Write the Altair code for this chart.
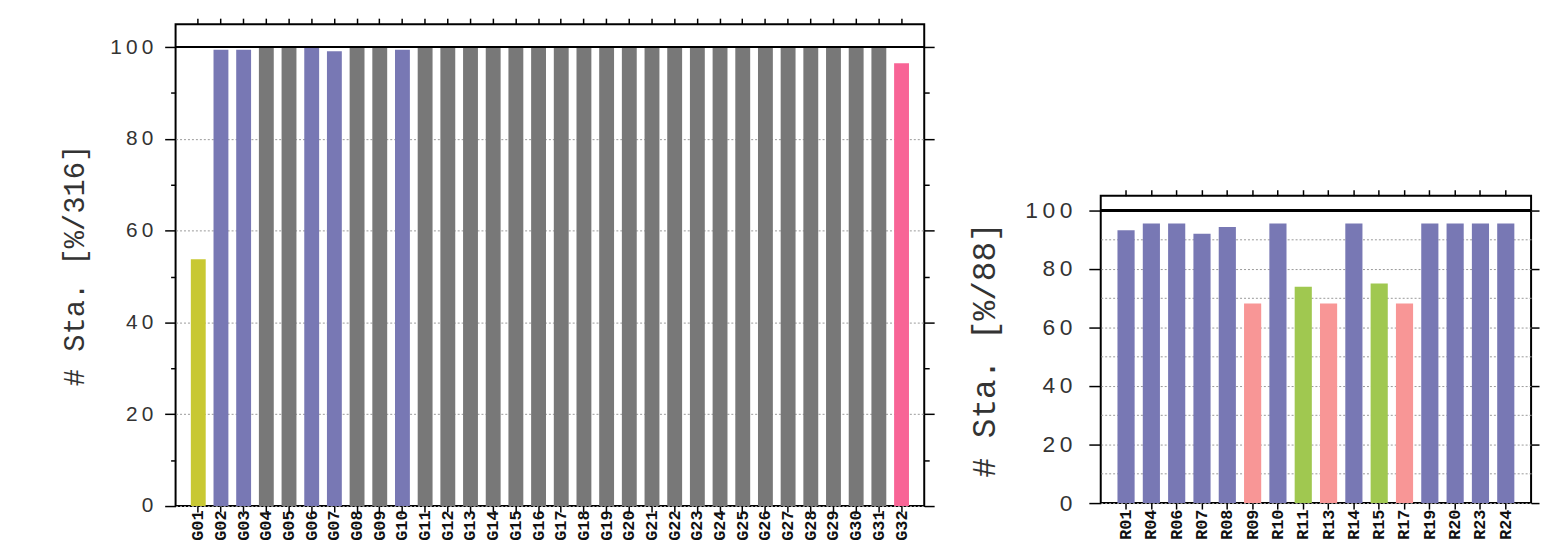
import altair as alt
import pandas as pd

# ---------------- data ----------------
left_stations = ["G01", "G02", "G03", "G04", "G05", "G06", "G07", "G08", "G09", "G10",
                 "G11", "G12", "G13", "G14", "G15", "G16", "G17", "G18", "G19", "G20",
                 "G21", "G22", "G23", "G24", "G25", "G26", "G27", "G28", "G29", "G30",
                 "G31", "G32"]
left_values = [53.8, 99.4, 99.4, 100, 100, 100, 99.1, 100, 100, 99.4,
               100, 100, 100, 100, 100, 100, 100, 100, 100, 100,
               100, 100, 100, 100, 100, 100, 100, 100, 100, 100,
               100, 96.5]
left_groups = ["A", "B", "B", "C", "C", "B", "B", "C", "C", "B",
               "C", "C", "C", "C", "C", "C", "C", "C", "C", "C",
               "C", "C", "C", "C", "C", "C", "C", "C", "C", "C",
               "C", "D"]

right_stations = ["R01", "R04", "R06", "R07", "R08", "R09", "R10", "R11",
                  "R13", "R14", "R15", "R17", "R19", "R20", "R23", "R24"]
right_values = [93.2, 95.5, 95.5, 92.0, 94.3, 68.2, 95.5, 73.9,
                68.2, 95.5, 75.0, 68.2, 95.5, 95.5, 95.5, 95.5]
right_groups = ["B", "B", "B", "B", "B", "E", "B", "F",
                "E", "B", "F", "E", "B", "B", "B", "B"]

group_names = ["A", "B", "C", "D", "E", "F"]
group_colors = ["#C8C832", "#7878B4", "#787878", "#F86496", "#F89696", "#A0C850"]

left_title = "# Sta. [%/316]"
right_title = "# Sta. [%/88]"

left_df = pd.DataFrame({"station": left_stations, "pct": left_values, "grp": left_groups})
right_df = pd.DataFrame({"station": right_stations, "pct": right_values, "grp": right_groups})

MONO = "Liberation Mono"
SANS = "Liberation Sans"
spaced = "join(split(datum.label, ''), '\u2009')"


def panel(df, title, width, height, bar_w, minor, lab_size, title_size,
          xlab_size, ytick, ylabpad, ytitlepad, xlabpad, rtick):
    n = len(df)
    step = width / (n + 1)
    p_in = 1 - bar_w / step
    p_out = (1 + p_in) / 2
    xscale = alt.Scale(paddingInner=p_in, paddingOuter=p_out)
    yscale = alt.Scale(domain=[0, 105], nice=False, zero=True)
    colors = alt.Scale(domain=group_names, range=group_colors)

    grid_vals = list(range(0, 101, 10))
    major = "datum.value % 20 === 0"
    if minor:
        tsize = {"condition": {"test": major, "value": ytick}, "value": 5}
        rsize = {"condition": {"test": major, "value": rtick}, "value": 5}
        gop = {"condition": {"test": major, "value": 1}, "value": 0}
    else:
        tsize = {"condition": {"test": major, "value": ytick}, "value": 0}
        rsize = {"condition": {"test": major, "value": rtick}, "value": 0}
        gop = 1
    lexpr = major + " ? " + spaced + " : ''"

    bars = alt.Chart(df).mark_bar(size=bar_w).encode(
        x=alt.X("station:N", sort=None, scale=xscale, title=None,
                axis=alt.Axis(orient="bottom", labelAngle=270, labelFont=MONO,
                              labelFontWeight="bold", labelFontSize=xlab_size,
                              labelColor="#111", labelPadding=xlabpad,
                              tickSize=6, tickWidth=1.5, tickColor="black",
                              domain=False, grid=False)),
        y=alt.Y("pct:Q", scale=yscale, title=title,
                axis=alt.Axis(orient="left", values=grid_vals,
                              tickSize=tsize, tickWidth=1.5, tickColor="black",
                              labelExpr=lexpr,
                              labelFont=SANS, labelFontSize=lab_size, labelColor="#333",
                              labelPadding=ylabpad,
                              titleFont=MONO, titleFontSize=title_size, titleColor="#333",
                              titleFontWeight="normal", titlePadding=ytitlepad,
                              domain=False, grid=True, gridOpacity=gop,
                              gridDash=[2, 2], gridColor="#999", gridWidth=1)),
        color=alt.Color("grp:N", scale=colors, legend=None),
    )

    rule = alt.Chart(df).mark_rule(color="black", strokeWidth=2).encode(
        y=alt.YDatum(100, type="quantitative", scale=yscale,
                     axis=alt.Axis(orient="right", values=grid_vals, labels=False,
                                   tickSize=rsize, tickWidth=1.5, tickColor="black",
                                   domain=False, grid=False, title=None)),
    )

    top = alt.Chart(df).mark_point(opacity=0).encode(
        x=alt.X("station:N", sort=None, scale=xscale, title=None,
                axis=alt.Axis(orient="top", labels=False, tickSize=6, tickWidth=1.5,
                              tickColor="black", domain=False, grid=False)),
        y=alt.Y("pct:Q", scale=yscale, axis=None),
    )

    return alt.layer(bars, rule, top).resolve_axis(x="independent", y="independent").properties(
        width=width, height=height,
        view=alt.ViewBackground(stroke="black", strokeWidth=2),
    )


left = panel(left_df, left_title, 755, 486, 15, True, 21, 29, 17, 11, 12, 20, -2, 10)
right = panel(right_df, right_title, 434, 310, 17.3, False, 23, 33, 17, 12, 17, 24, 0, 8)

spacer = alt.Chart(pd.DataFrame({"v": [0]})).mark_point(opacity=0).encode(
    x=alt.X("v:Q", axis=None), y=alt.Y("v:Q", axis=None)
).properties(width=434, height=165, view=alt.ViewBackground(stroke=None))

right_col = alt.vconcat(spacer, right, spacing=0)

chart = alt.hconcat(left, right_col, spacing=31).properties(
    padding={"left": 52, "top": 6, "right": 0, "bottom": 0},
    background="white",
)

chart.save("out.html", embed_options={"renderer": "svg", "actions": False})
